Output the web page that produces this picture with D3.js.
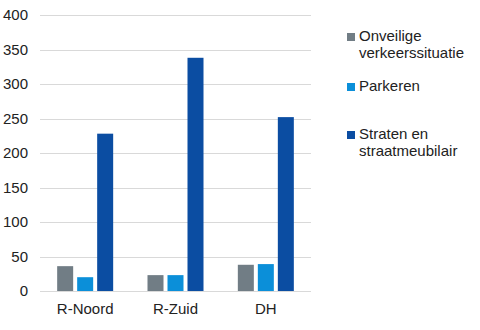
<!DOCTYPE html>
<html><head><meta charset="utf-8">
<script src="https://cdn.jsdelivr.net/npm/d3@7"></script>
<style>body{margin:0;background:#fff;}svg{display:block;font-family:"Liberation Sans",Arial,sans-serif;}</style>
</head><body>
<script>
const categories = ["R-Noord", "R-Zuid", "DH"];
const seriesNames = ["Onveilige verkeerssituatie", "Parkeren", "Straten en straatmeubilair"];
const legendLines = [["Onveilige", "verkeerssituatie"], ["Parkeren"], ["Straten en", "straatmeubilair"]];
const onveilige = [36, 23, 38];
const parkeren = [20, 23, 39];
const straten = [228, 338, 252];
const yTicks = [0, 50, 100, 150, 200, 250, 300, 350, 400];
const colors = ["#717d85", "#0b8fd9", "#0b4da2"];

const series = [onveilige, parkeren, straten];
const W = 480, H = 330;
const svg = d3.select("body").append("svg").attr("width", W).attr("height", H);

const y = d3.scaleLinear().domain([0, 400]).range([291, 15]);
const x = d3.scaleBand().domain(categories).range([40, 311]);
const xi = d3.scaleBand().domain(d3.range(3)).range([0, 56]).paddingInner(0.2);

// gridlines
svg.append("g").selectAll("line").data(yTicks).join("line")
  .attr("x1", 40).attr("x2", 311)
  .attr("y1", d => Math.round(y(d)) + 0.5).attr("y2", d => Math.round(y(d)) + 0.5)
  .attr("stroke", "#d9d9d9").attr("stroke-width", 1);

// y axis labels
const yAxis = d3.axisLeft(y).tickValues(yTicks).tickSize(0).tickPadding(0);
const ya = svg.append("g").attr("transform", "translate(28,0)").call(yAxis);
ya.select(".domain").remove();
ya.selectAll("text").attr("font-size", 15).attr("fill", "#222").attr("font-family", "Liberation Sans, Arial, sans-serif");

// x axis labels
const xAxis = d3.axisBottom(x).tickSize(0).tickPadding(0);
const xa = svg.append("g").attr("transform", "translate(0,303)").call(xAxis);
xa.select(".domain").remove();
xa.selectAll("text").attr("font-size", 15).attr("fill", "#222").attr("font-family", "Liberation Sans, Arial, sans-serif");

// bars
categories.forEach((c, ci) => {
  const gx = x(c) + (x.bandwidth() - 56) / 2;
  series.forEach((s, si) => {
    svg.append("rect")
      .attr("x", gx + xi(si)).attr("width", xi.bandwidth())
      .attr("y", y(s[ci])).attr("height", y(0) - y(s[ci]))
      .attr("fill", colors[si]);
  });
});

// legend
const legendY = [33, 83, 131];
const lg = svg.append("g");
legendLines.forEach((lines, i) => {
  lg.append("rect").attr("x", 347).attr("y", legendY[i]).attr("width", 8).attr("height", 8).attr("fill", colors[i]);
  lines.forEach((t, j) => {
    lg.append("text").attr("x", 359).attr("y", legendY[i] + 8 + j * 16.5)
      .attr("font-size", 15).attr("fill", "#222").text(t);
  });
});
</script>
</body></html>
